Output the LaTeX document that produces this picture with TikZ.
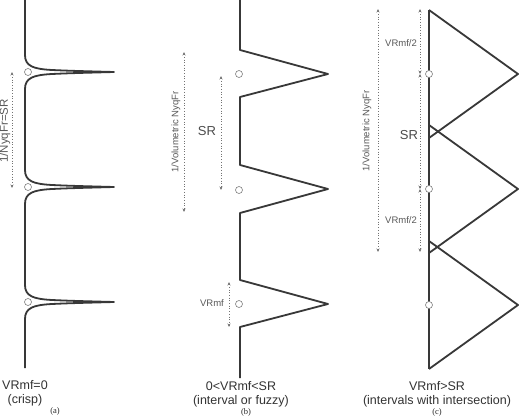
\documentclass[tikz,border=0pt]{standalone}
\usepackage{fontspec}
\setmainfont{Liberation Sans}
\newfontfamily\serifx{Liberation Serif}
\usetikzlibrary{arrows.meta}
\newcommand\spikeA[1]{-- (25,#1-17) .. controls (25,#1-6) and (33,#1-3) .. (52,#1-2) .. controls (70,#1-1.2) .. (114,#1) .. controls (70,#1+1.2) .. (52,#1+2) .. controls (33,#1+3) and (25,#1+6) .. (25,#1+17)}
\begin{document}
\begin{tikzpicture}[x=1pt,y=-1pt,
  shapeline/.style={draw=black!78, line width=1.8pt, line join=round},
  ptcircle/.style={circle, draw=black!50, fill=white, line width=0.6pt, minimum size=7pt, inner sep=0pt},
  dimarrow/.style={draw=black!55, dotted, line width=0.7pt, {Stealth[length=3.5pt,width=3pt]}-{Stealth[length=3.5pt,width=3pt]}},
  smalllbl/.style={text=black!65, font=\fontsize{9.5}{10}\selectfont, inner sep=0pt},
  srlbl/.style={text=black!70, font=\fontsize{13}{14}\selectfont, inner sep=0pt},
  caplbl/.style={text=black!80, font=\fontsize{12.5}{14}\selectfont, inner sep=0pt},
  letterlbl/.style={text=black!85, font=\serifx\fontsize{8.5}{10}\selectfont, inner sep=0pt}
]
\useasboundingbox (0,0) rectangle (520,417);
\fill[white] (0,0) rectangle (520,417);

% ---------- (a) ----------
\path[shapeline] (25,0) \spikeA{72} \spikeA{187} \spikeA{302} -- (25,368);
\node[ptcircle] (ca1) at (28,72) {};
\node[ptcircle] (ca2) at (28,187) {};
\node[ptcircle] (ca3) at (28,302) {};
\coordinate (aa1) at (12,72);
\coordinate (aa2) at (12,188);
\draw[dimarrow] (aa1) -- (aa2);
\node[smalllbl, rotate=90, font=\fontsize{11.5}{12}\selectfont] (la) at (5,131) {1/NyqFr=SR};
\node[caplbl] (ta1) at (25,385) {VRmf=0};
\node[caplbl] (ta2) at (25,400) {(crisp)};
\node[letterlbl] (ta3) at (55,411) {(a)};

% ---------- (b) ----------
\draw[shapeline] (240,0) -- (240,50) -- (328,74) -- (240,97) -- (240,165) -- (328,189) -- (240,213)
  -- (240,280) -- (328,304) -- (240,327) -- (240,378);
\node[ptcircle] (cb1) at (239,74) {};
\node[ptcircle] (cb2) at (239,190) {};
\node[ptcircle] (cb3) at (239,304) {};
\coordinate (ba1) at (184,52);
\coordinate (ba2) at (184,212);
\draw[dimarrow] (ba1) -- (ba2);
\node[smalllbl, rotate=90] (lb1) at (176,132) {1/Volumetric NyqFr};
\coordinate (bs1) at (221,76);
\coordinate (bs2) at (221,190);
\draw[dimarrow] (bs1) -- (bs2);
\node[srlbl] (lb2) at (207,131) {SR};
\coordinate (bv1) at (229,282);
\coordinate (bv2) at (229,327);
\draw[dimarrow] (bv1) -- (bv2);
\node[smalllbl] (lb3) at (212,303) {VRmf};
\node[caplbl] (tb1) at (241,386) {0<VRmf<SR};
\node[caplbl] (tb2) at (241,401) {(interval or fuzzy)};
\node[letterlbl] (tb3) at (246,412) {(b)};

% ---------- (c) ----------
\draw[shapeline] (429,10) -- (429,369);
\draw[shapeline] (429,10) -- (518,74) -- (429,138);
\draw[shapeline] (429,125) -- (518,189) -- (429,253);
\draw[shapeline] (429,241) -- (518,305) -- (429,369);
\node[ptcircle] (cc1) at (429,74) {};
\node[ptcircle] (cc2) at (429,189) {};
\node[ptcircle] (cc3) at (429,305) {};
\coordinate (cl1) at (378,9);
\coordinate (cl2) at (378,252);
\draw[dimarrow] (cl1) -- (cl2);
\node[smalllbl, rotate=90] (lc1) at (367,131) {1/Volumetric NyqFr};
\coordinate (cr0) at (420,9);
\coordinate (cr1) at (420,74);
\coordinate (cr2) at (420,189);
\coordinate (cr3) at (420,252);
\draw[dimarrow] (cr0) -- (cr1);
\draw[dimarrow] (cr1) -- (cr2);
\draw[dimarrow] (cr2) -- (cr3);
\node[smalllbl, fill=white, inner sep=1pt] (lc2) at (401,43) {VRmf/2};
\node[smalllbl, fill=white, inner sep=1pt] (lc3) at (401,220) {VRmf/2};
\node[srlbl] (lc4) at (409,135) {SR};
\node[caplbl] (tc1) at (437,386) {VRmf>SR};
\node[caplbl] (tc2) at (437,401) {(intervals with intersection)};
\node[letterlbl] (tc3) at (437,412) {(c)};
\end{tikzpicture}
\end{document}
